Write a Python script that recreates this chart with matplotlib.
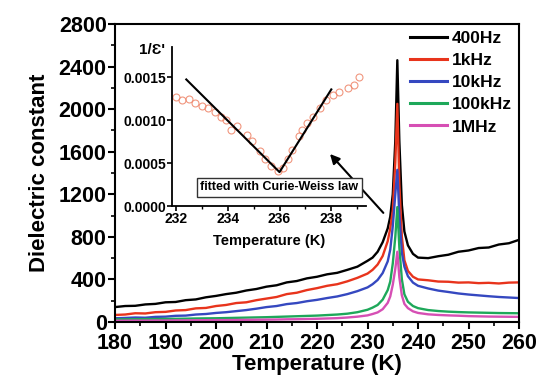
import matplotlib
matplotlib.use("Agg")
import matplotlib.pyplot as plt
from matplotlib.ticker import MultipleLocator, FormatStrFormatter

plt.rcParams['font.family'] = ['Liberation Sans', 'DejaVu Sans']
plt.rcParams['font.weight'] = 'bold'

# ============ DATA ============
temp = [180, 182, 184, 186, 188, 190, 192, 194, 196, 198, 200, 202, 204, 206, 208,
        210, 212, 214, 216, 218, 220, 222, 224, 226, 228, 230, 231, 232, 233, 234,
        234.5, 235, 235.5, 235.9, 236.3, 236.8, 237.3, 238, 239, 240, 242, 244, 246,
        248, 250, 252, 254, 256, 258, 260]

eps_400hz = [140, 150, 152, 165, 170, 185, 188, 205, 212, 232, 245, 262, 275, 296, 310,
             332, 345, 372, 385, 410, 425, 448, 462, 490, 520, 575, 605, 660, 750, 880,
             990, 1200, 1700, 2460, 1700, 1100, 850, 720, 640, 605, 600, 618, 632,
             660, 672, 695, 700, 728, 740, 772]
eps_1khz = [66, 70, 82, 80, 92, 95, 108, 112, 128, 132, 150, 160, 178, 185, 205,
            220, 235, 262, 275, 300, 318, 340, 355, 382, 415, 455, 490, 540, 620, 760,
            880, 1050, 1500, 2050, 1300, 800, 580, 480, 425, 400, 392, 380, 378,
            370, 372, 365, 368, 362, 370, 372]
eps_10khz = [35, 38, 42, 40, 48, 50, 58, 60, 70, 75, 85, 92, 102, 112, 125,
             140, 150, 168, 178, 195, 208, 225, 240, 262, 290, 325, 355, 395, 460, 570,
             680, 900, 1200, 1430, 1000, 650, 520, 430, 370, 340, 315, 295, 282,
             268, 258, 250, 242, 235, 230, 225]
eps_100khz = [25, 25, 26, 27, 28, 29, 30, 31, 33, 34, 35, 37, 39, 41, 43,
              45, 48, 51, 54, 57, 60, 65, 70, 78, 92, 115, 135, 160, 210, 300,
              380, 550, 800, 1080, 700, 400, 260, 190, 150, 130, 112, 103, 97,
              93, 90, 88, 86, 84, 83, 82]
eps_1mhz = [12, 12, 13, 13, 14, 14, 15, 15, 16, 17, 18, 18, 19, 20, 21,
            22, 23, 25, 26, 28, 30, 33, 36, 42, 50, 62, 75, 90, 120, 180,
            240, 350, 500, 660, 420, 250, 170, 130, 100, 85, 72, 66, 62,
            59, 55, 53, 51, 50, 49, 48]

series = [
    ("400Hz", eps_400hz, "black"),
    ("1kHz", eps_1khz, "#e8341c"),
    ("10kHz", eps_10khz, "#3548c0"),
    ("100kHz", eps_100khz, "#1ea85a"),
    ("1MHz", eps_1mhz, "#d64fb4"),
]

# inset: 1/eps' near the transition
inv_temp = [232.0, 232.25, 232.5, 232.75, 233.0, 233.25, 233.5, 233.75, 233.94, 234.12,
            234.37, 234.75, 234.94, 235.25, 235.44, 235.69, 235.94, 236.13, 236.31, 236.5,
            236.75, 236.88, 237.07, 237.31, 237.56, 237.81, 238.06, 238.31, 238.63, 238.88,
            239.07]
inv_eps = [0.001274, 0.001236, 0.001244, 0.001197, 0.001166, 0.00114, 0.0011, 0.00104,
           0.001005, 0.00089, 0.000935, 0.00083, 0.000754, 0.000639, 0.000543, 0.000465,
           0.000408, 0.000447, 0.000543, 0.000658, 0.000812, 0.000889, 0.000966, 0.001043,
           0.00114, 0.001236, 0.001293, 0.001332, 0.00137, 0.001409, 0.001505]
fit_temp = [232.4, 236.0, 238.0]
fit_inv = [0.001475, 0.000396, 0.001359]
# ==============================

fig = plt.figure(figsize=(5.41, 3.81), dpi=100)
ax = fig.add_axes([0.2126, 0.1549, 0.7468, 0.782])

for label, vals, color in series:
    ax.plot(temp, vals, color=color, linewidth=1.7, label=label)

ax.set_xlim(180, 260)
ax.set_ylim(0, 2800)
ax.xaxis.set_major_locator(MultipleLocator(10))
ax.xaxis.set_minor_locator(MultipleLocator(5))
ax.yaxis.set_major_locator(MultipleLocator(400))
ax.yaxis.set_minor_locator(MultipleLocator(200))
ax.tick_params(which='major', direction='out', length=5, width=1.5, labelsize=15.5)
ax.tick_params(axis='y', which='major', pad=1)
ax.tick_params(axis='x', which='major', pad=3)
ax.tick_params(which='minor', direction='out', length=3, width=1.2)
for s in ax.spines.values():
    s.set_linewidth(1.5)
ax.set_xlabel("Temperature (K)", fontsize=16, fontweight='bold', labelpad=0)
ax.set_ylabel("Dielectric constant", fontsize=16, fontweight='bold', labelpad=6)

leg = ax.legend(loc='upper right', frameon=False, fontsize=12.5, handlelength=2.1,
                handletextpad=0.3, labelspacing=0.4, borderaxespad=0.1,
                borderpad=0.3)
for line in leg.get_lines():
    line.set_linewidth(2.2)

ax.annotate("", xy=(222.2, 1598), xytext=(233.5, 1006),
            arrowprops=dict(arrowstyle='-|>', color='black', lw=1.5, mutation_scale=14))

# inset
ins = fig.add_axes([0.318, 0.459, 0.359, 0.417])
ins.patch.set_alpha(0)
ins.plot(inv_temp, inv_eps, 'o', markersize=5, markerfacecolor='none',
         markeredgecolor='#ee8468', markeredgewidth=0.8, alpha=0.85)
ins.plot(fit_temp, fit_inv, color='black', linewidth=1.5)
ins.set_xlim(231.85, 239.35)
ins.set_ylim(0, 0.00185)
ins.xaxis.set_major_locator(MultipleLocator(2))
ins.xaxis.set_minor_locator(MultipleLocator(1))
ins.set_yticks([0, 0.0005, 0.0010, 0.0015])
ins.yaxis.set_major_formatter(FormatStrFormatter('%.4f'))
ins.spines['top'].set_visible(False)
ins.spines['right'].set_visible(False)
for s in ['left', 'bottom']:
    ins.spines[s].set_linewidth(1.3)
ins.tick_params(which='major', direction='out', length=3.5, width=1.2, labelsize=10, pad=0.5)
ins.tick_params(which='minor', direction='out', length=2.5, width=1.0)
ins.set_xlabel("Temperature (K)", fontsize=10.5, fontweight='bold', labelpad=6)
ins.text(-0.105, 0.98, "1/\u0190'", transform=ins.transAxes, ha='center', va='center',
         fontsize=11, fontweight='bold')

fig.text(0.5166, 0.5079, "fitted with Curie-Weiss law", ha='center', va='center',
         fontsize=9, fontweight='bold', zorder=10,
         bbox=dict(boxstyle='square,pad=0.3', fc='white', ec='#333333', lw=1.0))

plt.savefig("out.png", dpi=100)
